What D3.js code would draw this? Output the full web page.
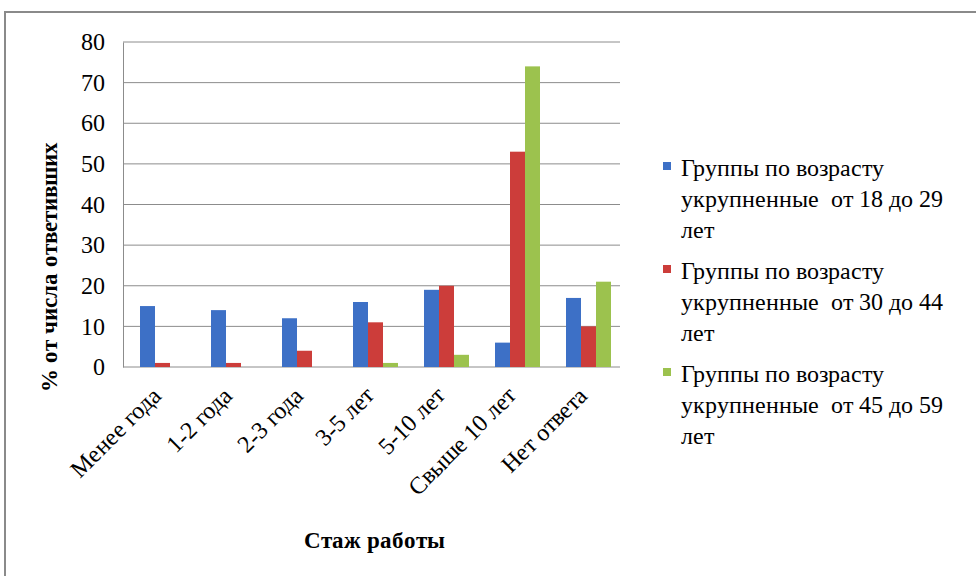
<html><head><meta charset="UTF-8">
<style>
@font-face { font-family: "ChartSerif"; font-weight: 400; src: local("Liberation Serif"), local("LiberationSerif"), local("DejaVu Serif"); }
@font-face { font-family: "ChartSerif"; font-weight: 700; src: local("Liberation Serif Bold"), local("LiberationSerif-Bold"), local("DejaVu Serif Bold"); }
body { margin: 0; }
</style>
</head><body>
<script src="https://d3js.org/d3.v7.min.js"></script>
<script>
const categories = ["Менее года", "1-2 года", "2-3 года", "3-5 лет", "5-10 лет", "Свыше 10 лет", "Нет ответа"];
const seriesNames = [
  ["Группы по возрасту", "укрупненные  от 18 до 29", "лет"],
  ["Группы по возрасту", "укрупненные  от 30 до 44", "лет"],
  ["Группы по возрасту", "укрупненные  от 45 до 59", "лет"]
];
const age18to29 = [15, 14, 12, 16, 19, 6, 17];
const age30to44 = [1, 1, 4, 11, 20, 53, 10];
const age45to59 = [0, 0, 0, 1, 3, 74, 21];
const yTicks = [0, 10, 20, 30, 40, 50, 60, 70, 80];
const colors = ["#3d70c6", "#cc3d3a", "#9cc24e"];

const series = [age18to29, age30to44, age45to59];
const fontName = "ChartSerif, 'Liberation Serif', 'Times New Roman', serif";
const plot = {left: 123, right: 620, top: 42, bottom: 367};

const svg = d3.select("body").append("svg").attr("width", 976).attr("height", 576)
  .attr("font-family", fontName);

// outer frame
svg.append("rect")
  .attr("x", 5).attr("y", 12).attr("width", 1000).attr("height", 600)
  .attr("fill", "none").attr("stroke", "#8a8a8a").attr("stroke-width", 2);

const x = d3.scaleBand().domain(categories).range([plot.left, plot.right]);
const y = d3.scaleLinear().domain([0, 80]).range([plot.bottom, plot.top]);
const xs = d3.scaleBand().domain([0, 1, 2]).range([0, 45]);

// gridlines
svg.append("g").selectAll("line").data(yTicks).join("line")
  .attr("x1", plot.left).attr("x2", plot.right)
  .attr("y1", d => y(d)).attr("y2", d => y(d))
  .attr("stroke", "#8c8c8c").attr("stroke-width", 1);

// y axis
const yAxis = svg.append("g")
  .attr("transform", `translate(${plot.left},0)`)
  .call(d3.axisLeft(y).tickValues(yTicks).tickSize(0).tickPadding(18));
yAxis.attr("font-family", fontName).attr("font-size", 24);
yAxis.selectAll("text").attr("fill", "#000");
yAxis.select(".domain").attr("stroke", "#8c8c8c");

// bars
series.forEach((vals, si) => {
  svg.append("g").selectAll("rect").data(vals).join("rect")
    .attr("x", (d, i) => x(categories[i]) + 17 + xs(si))
    .attr("y", d => y(d))
    .attr("width", xs.bandwidth())
    .attr("height", d => y(0) - y(d))
    .attr("fill", colors[si]);
});

// x labels
svg.append("g").selectAll("text").data(categories).join("text")
  .attr("transform", d => `translate(${x(d) + x.bandwidth() / 2 + 4},${plot.bottom + 30}) rotate(-45)`)
  .attr("text-anchor", "end")
  .attr("font-size", 24)
  .text(d => d);

// axis titles
svg.append("text")
  .attr("transform", "translate(57,267) rotate(-90)")
  .attr("text-anchor", "middle")
  .attr("font-size", 23).attr("font-weight", "bold")
  .text("% от числа ответивших");

svg.append("text")
  .attr("x", 374).attr("y", 548)
  .attr("text-anchor", "middle")
  .attr("font-size", 23).attr("font-weight", "bold")
  .text("Стаж работы");

// legend
const legendY = [176, 279, 382];
const legend = svg.append("g").selectAll("g").data(seriesNames).join("g")
  .attr("transform", (d, i) => `translate(663,${legendY[i]})`);
legend.append("rect")
  .attr("x", 0).attr("y", -14).attr("width", 8).attr("height", 8)
  .attr("fill", (d, i) => colors[i]);
legend.append("text")
  .attr("font-size", 24)
  .style("white-space", "pre")
  .selectAll("tspan").data(d => d).join("tspan")
  .attr("x", 18)
  .attr("y", (d, j) => j * 31)
  .text(d => d);

svg.selectAll("text").attr("font-family", fontName);
</script></body></html>
